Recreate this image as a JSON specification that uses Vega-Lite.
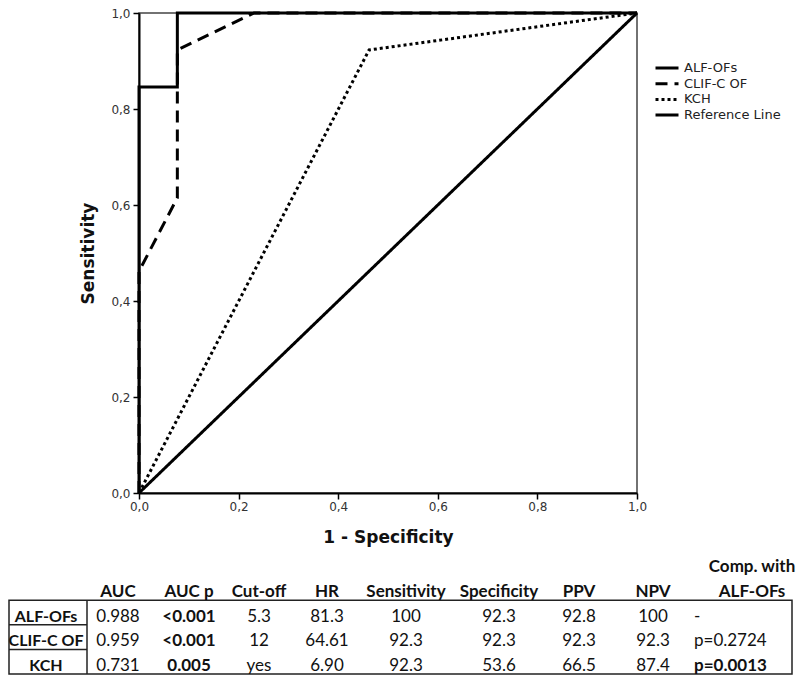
{
  "$schema": "https://vega.github.io/schema/vega-lite/v6.json",
  "padding": {"left": 8, "top": 6, "right": 2, "bottom": 2},
  "background": "white",
  "bounds": "flush",
  "spacing": 58,
  "config": {"view": {"stroke": null}},
  "datasets": {
    "roc": [
      {"curve": "Reference Line", "i": 0, "fpr": 0, "tpr": 0},
      {"curve": "Reference Line", "i": 1, "fpr": 1, "tpr": 1},
      {"curve": "KCH", "i": 0, "fpr": 0, "tpr": 0},
      {"curve": "KCH", "i": 1, "fpr": 0.462, "tpr": 0.923},
      {"curve": "KCH", "i": 2, "fpr": 1, "tpr": 1},
      {"curve": "CLIF-C OF", "i": 0, "fpr": 0, "tpr": 0},
      {"curve": "CLIF-C OF", "i": 1, "fpr": 0, "tpr": 0.462},
      {"curve": "CLIF-C OF", "i": 2, "fpr": 0.077, "tpr": 0.615},
      {"curve": "CLIF-C OF", "i": 3, "fpr": 0.077, "tpr": 0.923},
      {"curve": "CLIF-C OF", "i": 4, "fpr": 0.231, "tpr": 1},
      {"curve": "CLIF-C OF", "i": 5, "fpr": 1, "tpr": 1},
      {"curve": "ALF-OFs", "i": 0, "fpr": 0, "tpr": 0},
      {"curve": "ALF-OFs", "i": 1, "fpr": 0, "tpr": 0.846},
      {"curve": "ALF-OFs", "i": 2, "fpr": 0.077, "tpr": 0.846},
      {"curve": "ALF-OFs", "i": 3, "fpr": 0.077, "tpr": 1},
      {"curve": "ALF-OFs", "i": 4, "fpr": 1, "tpr": 1}
    ],
    "table": [
      {"r": 0, "c": 9, "text": "Comp. with"},
      {"r": 1, "c": 1, "text": "AUC"},
      {"r": 1, "c": 2, "text": "AUC p"},
      {"r": 1, "c": 3, "text": "Cut-off"},
      {"r": 1, "c": 4, "text": "HR"},
      {"r": 1, "c": 5, "text": "Sensitivity"},
      {"r": 1, "c": 6, "text": "Specificity"},
      {"r": 1, "c": 7, "text": "PPV"},
      {"r": 1, "c": 8, "text": "NPV"},
      {"r": 1, "c": 9, "text": "ALF-OFs"},
      {"r": 2, "c": 0, "text": "ALF-OFs"},
      {"r": 2, "c": 1, "text": "0.988"},
      {"r": 2, "c": 2, "text": "<0.001"},
      {"r": 2, "c": 3, "text": "5.3"},
      {"r": 2, "c": 4, "text": "81.3"},
      {"r": 2, "c": 5, "text": "100"},
      {"r": 2, "c": 6, "text": "92.3"},
      {"r": 2, "c": 7, "text": "92.8"},
      {"r": 2, "c": 8, "text": "100"},
      {"r": 2, "c": 9, "text": "-"},
      {"r": 3, "c": 0, "text": "CLIF-C OF"},
      {"r": 3, "c": 1, "text": "0.959"},
      {"r": 3, "c": 2, "text": "<0.001"},
      {"r": 3, "c": 3, "text": "12"},
      {"r": 3, "c": 4, "text": "64.61"},
      {"r": 3, "c": 5, "text": "92.3"},
      {"r": 3, "c": 6, "text": "92.3"},
      {"r": 3, "c": 7, "text": "92.3"},
      {"r": 3, "c": 8, "text": "92.3"},
      {"r": 3, "c": 9, "text": "p=0.2724"},
      {"r": 4, "c": 0, "text": "KCH"},
      {"r": 4, "c": 1, "text": "0.731"},
      {"r": 4, "c": 2, "text": "0.005"},
      {"r": 4, "c": 3, "text": "yes"},
      {"r": 4, "c": 4, "text": "6.90"},
      {"r": 4, "c": 5, "text": "92.3"},
      {"r": 4, "c": 6, "text": "53.6"},
      {"r": 4, "c": 7, "text": "66.5"},
      {"r": 4, "c": 8, "text": "87.4"},
      {"r": 4, "c": 9, "text": "p=0.0013"}
    ]
  },
  "vconcat": [
    {
      "width": 498,
      "height": 480,
      "view": {"stroke": "#444", "strokeWidth": 1.5},
      "data": {"name": "roc"},
      "mark": {"type": "line", "color": "black", "strokeCap": "butt", "strokeJoin": "miter", "clip": false},
      "encoding": {
        "x": {
          "field": "fpr", "type": "quantitative", "title": "1 - Specificity",
          "scale": {"domain": [0, 1], "nice": false, "zero": false},
          "axis": {
            "values": [0, 0.2, 0.4, 0.6, 0.8, 1],
            "labelExpr": "replace(format(datum.value, '.1f'), '.', ',')",
            "grid": false, "labelFlush": false,
            "domainColor": "#000", "domainWidth": 2,
            "tickColor": "#000", "tickWidth": 1.5, "tickSize": 6,
            "labelFont": "DejaVu Sans", "labelFontSize": 12, "labelColor": "#333", "labelPadding": 2,
            "titleFont": "DejaVu Sans", "titleFontSize": 17, "titleFontWeight": "bold", "titleColor": "#111", "titlePadding": 17
          }
        },
        "y": {
          "field": "tpr", "type": "quantitative", "title": "Sensitivity",
          "scale": {"domain": [0, 1], "nice": false, "zero": false},
          "axis": {
            "values": [0, 0.2, 0.4, 0.6, 0.8, 1],
            "labelExpr": "replace(format(datum.value, '.1f'), '.', ',')",
            "grid": false, "labelFlush": false,
            "domainColor": "#000", "domainWidth": 2,
            "tickColor": "#000", "tickWidth": 1.5, "tickSize": 6,
            "labelFont": "DejaVu Sans", "labelFontSize": 12, "labelColor": "#333", "labelPadding": 3,
            "titleFont": "DejaVu Sans", "titleFontSize": 17, "titleFontWeight": "bold", "titleColor": "#111", "titlePadding": 13
          }
        },
        "order": {"field": "i", "type": "quantitative"},
        "strokeDash": {
          "field": "curve", "type": "nominal",
          "scale": {
            "domain": ["ALF-OFs", "CLIF-C OF", "KCH", "Reference Line"],
            "range": [[1, 0], [12, 7], [3, 3], [1, 0]]
          },
          "legend": {
            "orient": "none", "legendX": 515, "legendY": 48, "title": null,
            "symbolType": "stroke", "symbolSize": 529, "symbolStrokeWidth": 3, "symbolStrokeColor": "black",
            "labelFont": "DejaVu Sans", "labelFontSize": 13, "labelColor": "#222", "labelOffset": 4,
            "clipHeight": 14, "rowPadding": 1.7
          }
        },
        "strokeWidth": {
          "field": "curve", "type": "nominal",
          "scale": {"domain": ["ALF-OFs", "CLIF-C OF", "KCH", "Reference Line"], "range": [3, 3, 3, 2]},
          "legend": null
        }
      }
    },
    {
      "width": 498,
      "height": 123,
      "view": {"stroke": null},
      "layer": [
        {
          "data": {"values": [{}]},
          "mark": {"type": "rect", "filled": false, "stroke": "#222", "strokeWidth": 1.5},
          "encoding": {
            "x": {"datum": -1, "type": "quantitative", "axis": null, "scale": {"domain": [-1, 0, 0.5, 1, 2, 3, 4, 5, 6, 7, 8, 9, 10], "range": [-130, -93, -52, -21, 50, 120, 188, 267, 360, 440, 514, 613, 653], "nice": false, "zero": false}},
            "x2": {"datum": 10},
            "y": {"datum": 1.5, "type": "quantitative", "axis": null, "scale": {"domain": [-0.5, 4.5], "reverse": true, "nice": false, "zero": false}},
            "y2": {"datum": 4.5}
          }
        },
        {
          "data": {"values": [{}]},
          "mark": {"type": "rule", "stroke": "#222", "strokeWidth": 1.5},
          "encoding": {
            "x": {"datum": 0.5, "type": "quantitative"},
            "y": {"datum": 1.5, "type": "quantitative"},
            "y2": {"datum": 4.5}
          }
        },
        {
          "data": {"values": [{}]},
          "mark": {"type": "rule", "stroke": "#222", "strokeWidth": 1.5},
          "encoding": {
            "x": {"datum": -1, "type": "quantitative"},
            "x2": {"datum": 0.5},
            "y": {"datum": 2.5, "type": "quantitative"}
          }
        },
        {
          "data": {"values": [{}]},
          "mark": {"type": "rule", "stroke": "#222", "strokeWidth": 1.5},
          "encoding": {
            "x": {"datum": -1, "type": "quantitative"},
            "x2": {"datum": 0.5},
            "y": {"datum": 3.5, "type": "quantitative"}
          }
        },
        {
          "data": {"name": "table"},
          "transform": [{"filter": "datum.r >= 2 && datum.c == 0"}],
          "mark": {"type": "text", "font": "Lato", "fontSize": 16, "fontWeight": "bold", "color": "#111", "baseline": "middle", "align": "center", "dy": 4},
          "encoding": {
            "x": {"field": "c", "type": "quantitative"},
            "y": {"field": "r", "type": "quantitative"},
            "text": {"field": "text"}
          }
        },
        {
          "data": {"name": "table"},
          "transform": [{"filter": "datum.r <= 1 || datum.c == 2"}],
          "mark": {"type": "text", "font": "Lato", "fontSize": 17, "fontWeight": "bold", "color": "#111", "baseline": "middle", "align": "center", "dy": 4},
          "encoding": {
            "x": {"field": "c", "type": "quantitative"},
            "y": {"field": "r", "type": "quantitative"},
            "text": {"field": "text"}
          }
        },
        {
          "data": {"name": "table"},
          "transform": [{"filter": "datum.r >= 2 && datum.c != 0 && datum.c != 2 && datum.c != 9"}],
          "mark": {"type": "text", "font": "Lato", "fontSize": 17, "color": "#111", "baseline": "middle", "align": "center", "dy": 4},
          "encoding": {
            "x": {"field": "c", "type": "quantitative"},
            "y": {"field": "r", "type": "quantitative"},
            "text": {"field": "text"}
          }
        },
        {
          "data": {"name": "table"},
          "transform": [{"filter": "datum.r >= 2 && datum.c == 9 && datum.text != 'p=0.0013'"}],
          "mark": {"type": "text", "font": "Lato", "fontSize": 17, "color": "#111", "baseline": "middle", "align": "left", "dx": -58, "dy": 4},
          "encoding": {
            "x": {"field": "c", "type": "quantitative"},
            "y": {"field": "r", "type": "quantitative"},
            "text": {"field": "text"}
          }
        },
        {
          "data": {"name": "table"},
          "transform": [{"filter": "datum.r >= 2 && datum.c == 9 && datum.text == 'p=0.0013'"}],
          "mark": {"type": "text", "font": "Lato", "fontSize": 17, "fontWeight": "bold", "color": "#111", "baseline": "middle", "align": "left", "dx": -58, "dy": 4},
          "encoding": {
            "x": {"field": "c", "type": "quantitative"},
            "y": {"field": "r", "type": "quantitative"},
            "text": {"field": "text"}
          }
        }
      ]
    }
  ]
}
